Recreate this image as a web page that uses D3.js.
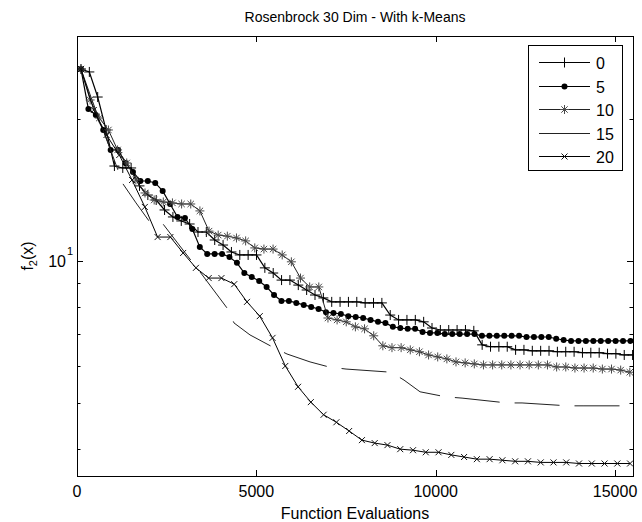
<!DOCTYPE html>
<html>
<head>
<meta charset="utf-8">
<script src="https://d3js.org/d3.v7.min.js"></script>
<style>
  body { margin: 0; background: #fff; }
  svg { display: block; }
  text { font-family: "Liberation Sans", Arial, Helvetica, sans-serif; }
</style>
</head>
<body>
<svg id="chart" width="642" height="522"></svg>
<script>
// ---- data ----
var seriesNames = ["0", "5", "10", "15", "20"];
var xTicks = [0, 5000, 10000, 15000];
var yMajorTicks = [10];
var yMinorTicks = [4, 5, 6, 7, 8, 9, 20];

// runs with markers: first evaluation count and evaluations per sample
var start0 = 111, step0 = 233;
var vals0 = [25.53, 25.17, 22.27, 18.96, 15.90, 15.75, 15.75, 14.43, 13.80, 13.47,
  12.83, 12.40, 12.16, 11.98, 11.52, 11.52, 11.08, 10.81, 10.45, 10.30,
  10.30, 10.30, 9.67, 9.43, 9.11, 9.11, 8.89, 8.68, 8.47, 8.35,
  8.19, 8.19, 8.19, 8.19, 8.15, 8.15, 8.15, 7.68, 7.50, 7.50,
  7.50, 7.43, 7.21, 7.14, 7.14, 7.14, 7.14, 7.11, 6.64, 6.58,
  6.58, 6.58, 6.48, 6.48, 6.45, 6.45, 6.45, 6.42, 6.42, 6.42,
  6.39, 6.39, 6.39, 6.36, 6.36, 6.32, 6.32];

var start5 = 111, step5 = 207;
var vals5 = [25.53, 21.0, 20.40, 18.96, 17.20, 17.20, 16.14, 15.45, 14.78, 14.78,
  14.64, 14.08, 13.21, 12.40, 12.34, 11.69, 10.71, 10.35, 10.35, 10.35,
  10.20, 9.91, 9.43, 9.25, 9.07, 8.81, 8.47, 8.23, 8.23, 8.15,
  8.07, 7.99, 7.91, 7.79, 7.76, 7.72, 7.64, 7.61, 7.57, 7.50,
  7.43, 7.39, 7.25, 7.21, 7.18, 7.18, 7.07, 7.04, 7.04, 7.00,
  7.00, 7.00, 7.00, 7.00, 6.94, 6.94, 6.94, 6.94, 6.94, 6.94,
  6.90, 6.90, 6.90, 6.90, 6.84, 6.80, 6.77, 6.77, 6.77, 6.77,
  6.77, 6.77, 6.77, 6.77, 6.77];

var start10 = 111, step10 = 255;
var vals10 = [25.53, 21.95, 20.10, 18.96, 17.20, 16.14, 14.85, 13.94, 13.47, 13.34,
  13.28, 13.21, 13.21, 12.77, 11.57, 11.35, 11.29, 11.19, 11.03, 10.66,
  10.60, 10.60, 10.30, 9.96, 9.20, 8.81, 8.81, 7.57, 7.50, 7.43,
  7.25, 7.18, 6.94, 6.61, 6.55, 6.55, 6.48, 6.42, 6.32, 6.26,
  6.20, 6.11, 6.08, 6.05, 6.02, 6.02, 6.02, 6.02, 6.02, 6.02,
  6.02, 6.02, 5.96, 5.96, 5.93, 5.93, 5.93, 5.90, 5.90, 5.87,
  5.81];

var start20 = 111, step20 = 356;
var vals20 = [25.53, 20.90, 18.50, 16.78, 14.85, 13.02, 11.24, 11.24, 10.40, 9.67,
  9.20, 9.20, 8.93, 8.19, 7.64, 6.87, 5.99, 5.41, 5.02, 4.72,
  4.55, 4.36, 4.17, 4.11, 4.07, 3.99, 3.97, 3.93, 3.93, 3.88,
  3.84, 3.80, 3.80, 3.78, 3.76, 3.76, 3.74, 3.74, 3.74, 3.72,
  3.72, 3.72, 3.72, 3.72];

// run without markers
var evals15 = [111, 418, 781, 1059, 1282, 1645, 2007, 2314, 2398, 2955, 3429, 4182, 4377,
  4823, 5437, 5855, 6496, 7026, 7500, 8754, 9117, 9563, 10288, 10734, 11988, 12407,
  13689, 14107, 15418];
var vals15 = [25.53, 21.95, 18.50, 16.22, 14.57, 13.28, 12.16, 12.04, 11.98, 10.55, 9.48,
  7.95, 7.39, 6.97, 6.58, 6.35, 6.11, 5.96, 5.90, 5.81, 5.59, 5.28, 5.15, 5.12, 5.00,
  5.00, 4.93, 4.93, 4.93];

// ---- layout ----
var plotL = 77, plotR = 633, plotT = 36, plotB = 476;
var fontSize = 16;
var dash15 = [45, 15], dash15From = 4;   // first visible dash starts at this sample

var svg = d3.select("#chart");
var x = d3.scaleLinear().domain([0, 15500]).range([plotL, plotR]);
var y = d3.scaleLog().domain([3.5, 30]).range([plotB, plotT]);

var toPts = function(start, step, vals) {
  return vals.map(function(v, i) { return [start + i * step, v]; });
};
var runs = {
  "0":  toPts(start0, step0, vals0),
  "5":  toPts(start5, step5, vals5),
  "10": toPts(start10, step10, vals10),
  "15": evals15.map(function(e, i) { return [e, vals15[i]]; }),
  "20": toPts(start20, step20, vals20)
};

var styles = {
  "0":  { line: "#000", width: 1.2, marker: "plus",  mcolor: "#000" },
  "5":  { line: "#000", width: 1.2, marker: "dot",   mcolor: "#000" },
  "10": { line: "#222", width: 1,   marker: "star",  mcolor: "#4a4a4a" },
  "15": { line: "#222", width: 1,   marker: null,    mcolor: null },
  "20": { line: "#000", width: 1,   marker: "cross", mcolor: "#111" }
};

var markerPath = {
  plus:  "M-5,0H5M0,-5V5",
  star:  "M-4.5,0H4.5M0,-4.5V4.5M-3.2,-3.2L3.2,3.2M-3.2,3.2L3.2,-3.2",
  cross: "M-3,-3L3,3M-3,3L3,-3"
};

var drawMarker = function(g, kind, color, px, py) {
  if (kind == "dot") {
    g.append("circle").attr("cx", px).attr("cy", py).attr("r", 3).attr("fill", color);
  } else {
    g.append("path").attr("d", markerPath[kind])
      .attr("transform", "translate(" + px + "," + py + ")")
      .attr("fill", "none").attr("stroke", color).attr("stroke-width", 1);
  }
};

// ---- title and labels ----
svg.append("text")
  .attr("x", (plotL + plotR) / 2).attr("y", 22)
  .attr("text-anchor", "middle").style("font-size", "14px")
  .text("Rosenbrock 30 Dim - With k-Means");

svg.append("text")
  .attr("x", (plotL + plotR) / 2).attr("y", 519)
  .attr("text-anchor", "middle").style("font-size", fontSize + "px")
  .text("Function Evaluations");

var yl = svg.append("text")
  .attr("transform", "translate(33," + ((plotT + plotB) / 2) + ") rotate(-90)")
  .attr("text-anchor", "middle").style("font-size", fontSize + "px");
yl.append("tspan").text("f");
yl.append("tspan").attr("dy", 4).style("font-size", "11px").text("2");
yl.append("tspan").attr("dy", -4).text("(x)");

// ---- lines ----
svg.append("clipPath").attr("id", "plotclip")
  .append("rect").attr("x", plotL).attr("y", plotT)
  .attr("width", plotR - plotL).attr("height", plotB - plotT);

var plot = svg.append("g").attr("clip-path", "url(#plotclip)");
var line = d3.line().x(function(d) { return x(d[0]); }).y(function(d) { return y(d[1]); });

seriesNames.forEach(function(name) {
  var st = styles[name];
  var data = runs[name];
  var p = plot.append("path")
    .attr("d", line(data))
    .attr("fill", "none")
    .attr("stroke", st.line)
    .attr("stroke-width", st.width);
  if (name == "15") {
    var L0 = 0;
    for (var i = 1; i <= dash15From; i++) {
      L0 += Math.hypot(x(data[i][0]) - x(data[i - 1][0]), y(data[i][1]) - y(data[i - 1][1]));
    }
    var period = dash15[0] + dash15[1];
    p.attr("stroke-dasharray", dash15.join(","))
     .attr("stroke-dashoffset", (period - L0 % period) % period);
  }
  if (st.marker) {
    var mg = plot.append("g");
    data.forEach(function(d) { drawMarker(mg, st.marker, st.mcolor, x(d[0]), y(d[1])); });
  }
});

// ---- axes (ticks inside, mirrored) ----
var tickLen = 6, minorLen = 3.5;
var axes = svg.append("g").attr("stroke", "#000").attr("stroke-width", 1);
xTicks.forEach(function(t) {
  var px = Math.round(x(t)) + 0.5;
  axes.append("line").attr("x1", px).attr("x2", px).attr("y1", plotB).attr("y2", plotB - tickLen);
  axes.append("line").attr("x1", px).attr("x2", px).attr("y1", plotT).attr("y2", plotT + tickLen);
});
yMajorTicks.concat(yMinorTicks).forEach(function(t) {
  var len = yMajorTicks.indexOf(t) >= 0 ? tickLen : minorLen;
  var py = Math.round(y(t)) + 0.5;
  axes.append("line").attr("x1", plotL).attr("x2", plotL + len).attr("y1", py).attr("y2", py);
  axes.append("line").attr("x1", plotR).attr("x2", plotR - len).attr("y1", py).attr("y2", py);
});
svg.append("rect")
  .attr("x", plotL + 0.5).attr("y", plotT + 0.5)
  .attr("width", plotR - plotL).attr("height", plotB - plotT)
  .attr("fill", "none").attr("stroke", "#000").attr("stroke-width", 1);

var xl = svg.append("g");
xTicks.forEach(function(t) {
  xl.append("text").attr("x", x(t)).attr("y", 497)
    .attr("text-anchor", "middle").style("font-size", fontSize + "px")
    .text(d3.format("d")(t));
});
yMajorTicks.forEach(function(t) {
  var py = y(t);
  svg.append("text").attr("x", 66).attr("y", py + 6.5)
    .attr("text-anchor", "end").style("font-size", fontSize + "px").text("10");
  svg.append("text").attr("x", 67).attr("y", py - 6)
    .style("font-size", "11px").text(Math.round(Math.log10(t)));
});

// ---- legend ----
var lg = svg.append("g");
lg.append("rect").attr("x", 528.5).attr("y", 45.5).attr("width", 94).attr("height", 125)
  .attr("fill", "#fff").attr("stroke", "#000").attr("stroke-width", 1);
seriesNames.forEach(function(name, i) {
  var st = styles[name];
  var ly = Math.round(62 + i * 23.5) + 0.5;
  lg.append("line").attr("x1", 539).attr("x2", 590).attr("y1", ly).attr("y2", ly)
    .attr("stroke", st.line).attr("stroke-width", 1);
  if (st.marker) { drawMarker(lg, st.marker, st.mcolor, 564.5, ly); }
  lg.append("text").attr("x", 596).attr("y", ly + 6)
    .style("font-size", fontSize + "px").text(name);
});
</script>
</body>
</html>
